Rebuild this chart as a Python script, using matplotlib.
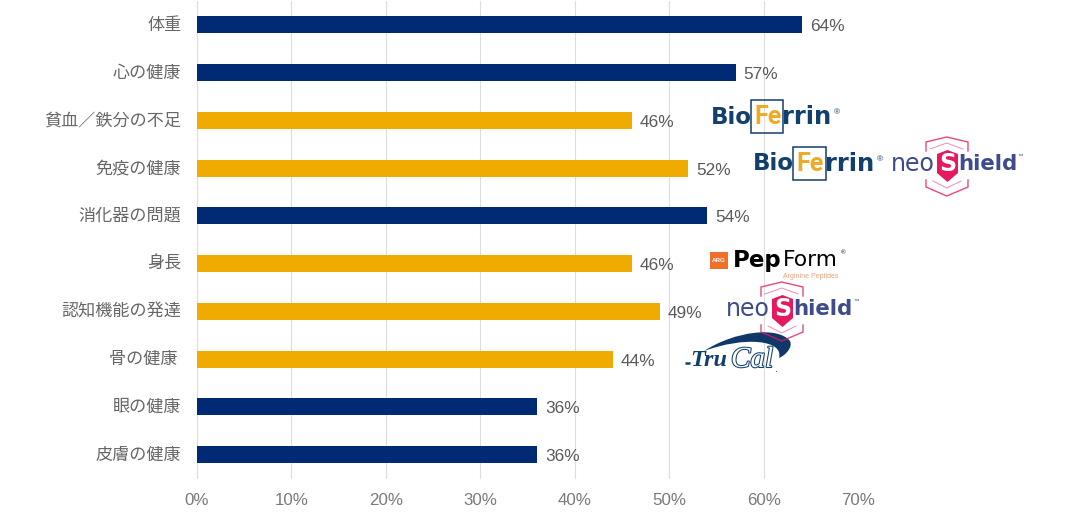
"""
Horizontal bar chart: health concerns, with ingredient logos next to the gold bars.
"""

import matplotlib
matplotlib.use('Agg')
import matplotlib.pyplot as plt
import matplotlib.patheffects as pe
from matplotlib.patches import PathPatch, Polygon, Rectangle
from matplotlib.path import Path

W, H = 1067, 517

categories = ['体重', '心の健康', '貧血／鉄分の不足', '免疫の健康', '消化器の問題',
              '身長', '認知機能の発達', '骨の健康 ', '眼の健康', '皮膚の健康']
values = [64, 57, 46, 52, 54, 46, 49, 44, 36, 36]
highlighted = [0, 0, 1, 1, 0, 1, 1, 1, 0, 0]
ticks = [0, 10, 20, 30, 40, 50, 60, 70]

# Palette
navy = '#002A74'
gold = '#EFAB00'
grid = '#DDDDDD'
label_c = '#595959'
tick_c = '#7A7A7A'
cat_c = '#666666'
logo_navy = '#123F6D'
logo_gold = '#F2A922'
shield_pink = '#E5195F'
shield_blue = '#3F4B8C'

plt.rcParams['font.family'] = ['Liberation Sans', 'Noto Sans CJK JP', 'DejaVu Sans']

fig = plt.figure(figsize=(W / 100, H / 100), dpi=100)
fig.patch.set_facecolor('white')

# Axes placed in pixels: 0% at x=196.5, 70% at x=858, plot from y=1 to y=478.5
ax = fig.add_axes([196.8 / W, 1 - 478.5 / H, (858.4 - 196.8) / W, 477.5 / H])
y_pos = list(range(len(categories)))
colors = [gold if h else navy for h in highlighted]
ax.barh(y_pos, values, height=0.355, color=colors, zorder=3)
ax.set_ylim(len(categories) - 0.5, -0.5)
ax.set_xlim(0, 70)
ax.set_xticks(ticks)
ax.set_xticklabels([f'{t}%' for t in ticks], fontsize=12.2, color=tick_c)
ax.set_yticks(y_pos)
ax.set_yticklabels([])
ax.tick_params(axis='both', length=0)
ax.tick_params(axis='x', pad=10.5)
ax.grid(axis='x', color=grid, lw=0.8, zorder=0)
ax.set_axisbelow(True)
for side in ['top', 'right', 'bottom']:
    ax.spines[side].set_visible(False)
ax.spines['left'].set_color(grid)
ax.spines['left'].set_linewidth(0.8)
# category labels as annotations, the CJK font sits low as a tick label
for i, c in enumerate(categories):
    ax.annotate(c, (0, i), xytext=(-15.5, 0), textcoords='offset pixels', ha='right',
                va='center', fontsize=12.3, color=cat_c, annotation_clip=False,
                family=['Noto Sans CJK JP', 'DejaVu Sans'])
for i, v in enumerate(values):
    ax.annotate(f'{v}%', (v, i), xytext=(8, -2), textcoords='offset pixels',
                ha='left', va='center', fontsize=12.4, color=label_c, zorder=4)

# Overlay in image pixels for the logos
ov = fig.add_axes([0, 0, 1, 1], facecolor='none')
ov.set_xlim(0, W)
ov.set_ylim(H, 0)
ov.axis('off')


def bioferrin(dx, dy):
    kw = dict(fontweight='bold', va='center', ha='left')
    ov.text(710.5 + dx, 117 + dy, 'Bio', color=logo_navy, fontsize=16.5,
            family='DejaVu Sans', **kw)
    ov.text(754 + dx, 117 + dy, 'Fe', color=logo_gold, fontsize=18, family='Roboto', **kw)
    ov.text(782 + dx, 117 + dy, 'rrin', color=logo_navy, fontsize=17.5,
            family='DejaVu Sans', **kw)
    ov.text(834 + dx, 112.5 + dy, '®', color=logo_navy, fontsize=6, ha='left', va='center')
    ov.add_patch(Rectangle((750.5 + dx, 100 + dy), 32.5, 32.5, fc='none',
                           ec=logo_navy, lw=1.1))


def neoshield(dx, dy):
    # outer and inner chevrons, then the filled badge behind the S
    outer = dict(color=shield_pink, lw=1.0, alpha=0.8)
    inner = dict(color=shield_pink, lw=0.7, alpha=0.5)
    ov.plot([926 + dx, 926 + dx, 946.7 + dx, 968 + dx, 968 + dx],
            [151 + dy, 142 + dy, 137 + dy, 142 + dy, 151 + dy], **outer)
    ov.plot([930 + dx, 946.7 + dx, 963 + dx], [149 + dy, 143 + dy, 149 + dy], **inner)
    ov.plot([926 + dx, 926 + dx, 946.7 + dx, 968 + dx, 968 + dx],
            [180 + dy, 187 + dy, 196 + dy, 187 + dy, 180 + dy], **outer)
    ov.plot([933 + dx, 946.7 + dx, 961 + dx], [181 + dy, 188 + dy, 181 + dy], **inner)
    ov.add_patch(Polygon([(937 + dx, 154 + dy), (947.5 + dx, 150 + dy), (958 + dx, 154 + dy),
                          (958 + dx, 173 + dy), (947.5 + dx, 182 + dy), (937 + dx, 173 + dy)],
                         closed=True, fc=shield_pink, ec='none'))
    ov.text(891 + dx, 164 + dy, 'neo', ha='left', va='center', fontsize=17,
            family='DejaVu Sans', color=shield_blue)
    ov.text(947.5 + dx, 164 + dy, 'S', ha='center', va='center', fontsize=17,
            family='DejaVu Sans', fontweight='bold', color='white')
    ov.text(958.5 + dx, 164 + dy, 'hield', ha='left', va='center', fontsize=15.3,
            family='DejaVu Sans', fontweight='bold', color=shield_blue)
    ov.text(1018 + dx, 156 + dy, '™', color=shield_blue, fontsize=4, ha='left', va='center')


bioferrin(0, 0)
bioferrin(42.6, 47)
neoshield(0, 0)
neoshield(-165, 145)

# PepForm
ov.add_patch(Rectangle((710, 252), 18, 17, fc='#F0702A', ec='none'))
ov.text(719, 260.5, 'ARG', color='white', fontsize=4.5, fontweight='bold',
        ha='center', va='center')
ov.text(733, 260, 'Pep', color='black', fontsize=16.5, fontweight='bold',
        ha='left', va='center', family='DejaVu Sans')
ov.text(783, 260, 'Form', color='black', fontsize=15.7, ha='left', va='center',
        family='DejaVu Sans')
ov.text(841, 252.5, '®', color='black', fontsize=4.5, ha='left', va='center')
ov.text(810.5, 277, 'Arginine Peptides', color='#E8A27E', fontsize=5, ha='center', va='center')

# TruCal, swoosh first then the lettering
swoosh = Path([(704, 351), (735, 331), (778, 326), (790, 341), (793, 347), (786, 355),
               (779, 358), (784, 340), (745, 336), (704, 351)],
              [Path.MOVETO, Path.CURVE4, Path.CURVE4, Path.CURVE4, Path.CURVE4, Path.CURVE4,
               Path.CURVE4, Path.CURVE4, Path.CURVE4, Path.CURVE4])
ov.add_patch(PathPatch(swoosh, fc='#0F3768', ec='none'))
ov.plot([685, 690], [363, 363], color=logo_navy, lw=1.8, solid_capstyle='butt')
ov.text(690, 361, 'Tru', color=logo_navy, fontsize=17.5, fontweight='bold', style='italic',
        family='Liberation Serif', ha='left', va='center')
cal = ov.text(731, 360, 'Cal', color='white', fontsize=21, style='italic',
              family='Liberation Serif', ha='left', va='center')
cal.set_path_effects([pe.withStroke(linewidth=1.5, foreground=logo_navy)])
ov.text(775, 369, '.', color=logo_navy, fontsize=8, ha='left', va='center')

fig.savefig('out.png', dpi=100, facecolor='white')
